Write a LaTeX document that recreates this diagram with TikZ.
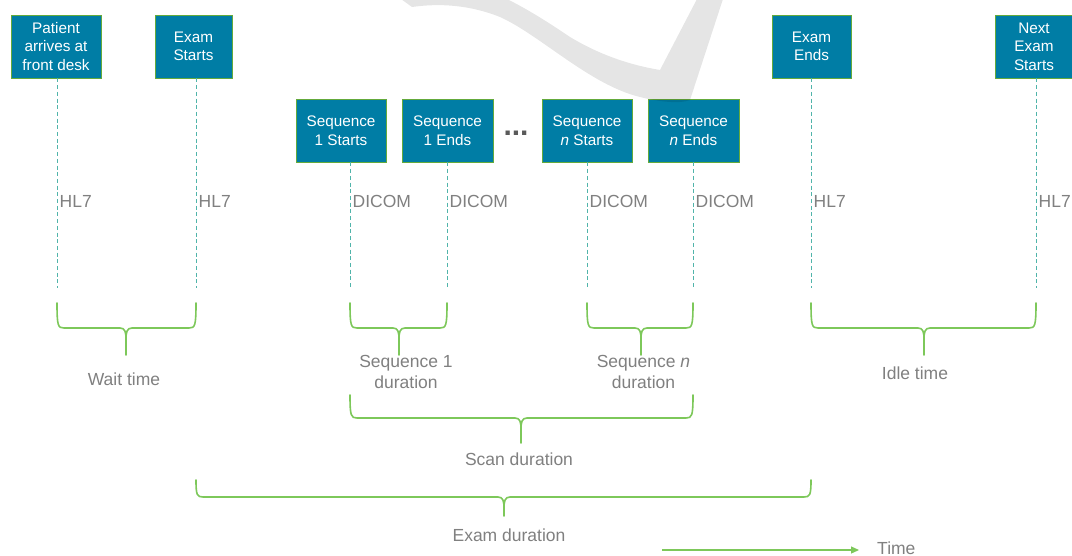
\documentclass[tikz,border=0pt]{standalone}
\usepackage{fontspec}
\setmainfont{Liberation Sans}
\usetikzlibrary{arrows.meta}
\definecolor{boxteal}{RGB}{0,125,165}
\definecolor{boxedge}{RGB}{100,170,60}
\definecolor{dashteal}{RGB}{80,180,170}
\definecolor{bracegreen}{RGB}{125,200,90}
\definecolor{labelgray}{RGB}{128,128,128}
\definecolor{dotgray}{RGB}{90,90,90}
\newcommand{\durbrace}[6]{%
  \draw[durbr] (#1,#4) .. controls (#1,#5-2) and (#1+1,#5) .. (#1+7,#5) -- (#3-6,#5) .. controls (#3-1,#5) and (#3,#5+4) .. (#3,#5+11) -- (#3,#6);
  \draw[durbr] (#2,#4) .. controls (#2,#5-2) and (#2-1,#5) .. (#2-7,#5) -- (#3+6,#5) .. controls (#3+1,#5) and (#3,#5+4) .. (#3,#5+11);
}
\begin{document}
\begin{tikzpicture}[x=1pt,y=-1pt,
  evbox/.style={draw=boxedge, line width=0.9pt, fill=boxteal, text=white, align=center,
    font=\fontsize{15.3}{18.5}\selectfont, minimum height=63pt, inner sep=0pt},
  evline/.style={draw=dashteal, dash pattern=on 4pt off 2.7pt, line width=0.9pt},
  proto/.style={text=labelgray, font=\fontsize{17.5}{21}\selectfont, anchor=base west, inner sep=0pt},
  durlabel/.style={text=labelgray, font=\fontsize{17.5}{21}\selectfont, align=center, inner sep=0pt},
  durbr/.style={draw=bracegreen, line width=1.6pt, line join=round, line cap=round}]
\useasboundingbox (0,0) rectangle (1072,555);
\fill[white] (0,0) rectangle (1072,555);

% event boxes
\node[evbox, minimum width=90pt] (arrive) at (56,46.5) {Patient\\arrives at\\front desk};
\node[evbox, minimum width=77pt] (estart) at (193.5,46.5) {Exam\\Starts};
\node[evbox, minimum width=90pt] (s1s) at (341,130.5) {Sequence\\1 Starts};
\node[evbox, minimum width=91pt] (s1e) at (447.5,130.5) {Sequence\\1 Ends};
\node[text=dotgray, font=\bfseries\fontsize{30}{30}\selectfont, anchor=base, inner sep=0pt] (dots) at (516,135) {...};
\node[evbox, minimum width=90pt] (sns) at (587,130.5) {Sequence\\\textit{n} Starts};
\node[evbox, minimum width=91pt] (sne) at (693.5,130.5) {Sequence\\\textit{n} Ends};
\node[evbox, minimum width=79pt] (eend) at (811.5,46.5) {Exam\\Ends};
\node[evbox, minimum width=78pt] (nstart) at (1034,46.5) {Next\\Exam\\Starts};

% dashed drop lines
\coordinate (l1) at (57,288);
\coordinate (l2) at (196,288);
\coordinate (l3) at (350,288);
\coordinate (l4) at (447,288);
\coordinate (l5) at (587,288);
\coordinate (l6) at (693,288);
\coordinate (l7) at (811,288);
\coordinate (l8) at (1036,288);
\draw[evline] (arrive.south -| l1) -- (l1);
\draw[evline] (estart.south -| l2) -- (l2);
\draw[evline] (s1s.south -| l3) -- (l3);
\draw[evline] (s1e.south -| l4) -- (l4);
\draw[evline] (sns.south -| l5) -- (l5);
\draw[evline] (sne.south -| l6) -- (l6);
\draw[evline] (eend.south -| l7) -- (l7);
\draw[evline] (nstart.south -| l8) -- (l8);

% protocol labels
\node[proto] (p1) at (59.5,207) {HL7};
\node[proto] (p2) at (198.5,207) {HL7};
\node[proto] (p3) at (352.5,207) {DICOM};
\node[proto] (p4) at (449.5,207) {DICOM};
\node[proto] (p5) at (589.5,207) {DICOM};
\node[proto] (p6) at (695.5,207) {DICOM};
\node[proto] (p7) at (813.5,207) {HL7};
\node[proto] (p8) at (1038.5,207) {HL7};

% braces
\durbrace{57}{196}{126}{303}{328}{355}
\durbrace{350}{447}{399}{303}{328}{355}
\durbrace{587}{693}{641}{303}{328}{355}
\durbrace{811}{1036}{924}{303}{328}{355}
\durbrace{350}{693}{521}{395}{418}{443}
\durbrace{196}{811}{504}{480}{497}{516}

% duration labels
\node[durlabel, anchor=base] (waitl) at (124,385) {Wait time};
\node[durlabel] (seq1l) at (406,372) {Sequence 1\\duration};
\node[durlabel] (seqnl) at (643.5,372) {Sequence \textit{n}\\duration};
\node[durlabel, anchor=base] (idlel) at (915,379) {Idle time};
\node[durlabel, anchor=base] (scanl) at (519,465) {Scan duration};
\node[durlabel, anchor=base] (examl) at (509,541.5) {Exam duration};

% time arrow
\coordinate (tstart) at (662,550);
\coordinate (tend) at (859,550);
\draw[bracegreen, line width=1.2pt, -{Triangle[length=8pt,width=7pt]}] (tstart) -- (tend);
\node[durlabel, anchor=base west] (timel) at (877,554.5) {Time};

% faint brush stroke
\fill[black, opacity=0.1] (401,-1) -- (412,7) .. controls (440,3) and (470,5) .. (500,17)
  .. controls (540,35) and (590,85) .. (640,97) .. controls (660,102) and (680,104) .. (690,100)
  -- (723,-1) -- (697,-1) -- (660,70) .. controls (630,65) and (600,55) .. (570,37)
  .. controls (545,20) and (525,8) .. (507,-1) -- cycle;
\end{tikzpicture}
\end{document}
